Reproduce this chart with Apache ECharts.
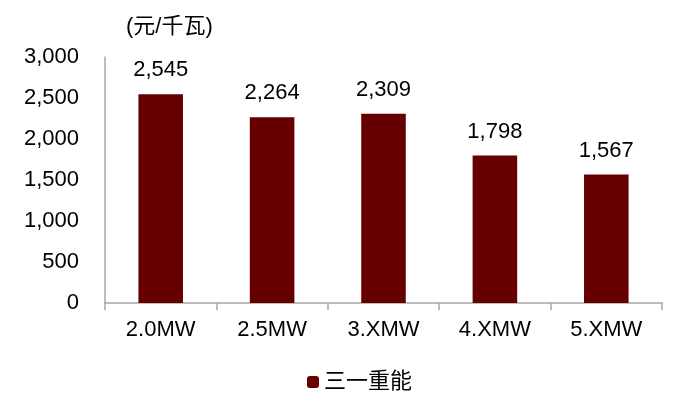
<!DOCTYPE html>
<html style="height: 100%">
<head>
<meta charset="UTF-8">
<title>三一重能</title>
<script src="https://cdn.jsdelivr.net/npm/echarts@6/dist/echarts.min.js"></script>
</head>
<body style="height: 100%;margin: 0">
<div id="container" style="width: 700px;height: 412px"></div>
<script type="text/javascript">
// categories and values
var categories = ['2.0MW', '2.5MW', '3.XMW', '4.XMW', '5.XMW'];
var prices = [2545, 2264, 2309, 1798, 1567];
var seriesName = '三一重能';
var unitLabel = '(元/千瓦)';

var fontFamily = '"Liberation Sans", Arial, "Noto Sans CJK SC", sans-serif';
var fontSize = 22;
var myChart = echarts.init(document.getElementById('container'));

var option = {
    animation: false,
    textStyle: { fontFamily: fontFamily },
    grid: { left: 105, right: 38, top: 57, bottom: 109 },
    title: {
        text: unitLabel,
        left: 126,
        top: 16,
        padding: 0,
        textStyle: { fontSize: fontSize, fontWeight: 'normal', color: '#000', fontFamily: fontFamily }
    },
    legend: {
        data: [seriesName],
        top: 371,
        left: 307,
        padding: 0,
        itemWidth: 12,
        itemHeight: 12,
        itemGap: 4,
        textStyle: { fontSize: fontSize, color: '#000', fontFamily: fontFamily }
    },
    xAxis: {
        type: 'category',
        data: categories,
        axisLine: { lineStyle: { color: '#a6a6a6', width: 1.5 } },
        axisTick: { show: true, length: 7, lineStyle: { color: '#a6a6a6', width: 1.5 } },
        axisLabel: { fontSize: fontSize, color: '#000', margin: 16 }
    },
    yAxis: {
        type: 'value',
        min: 0,
        max: 3000,
        interval: 500,
        axisLine: { show: true, lineStyle: { color: '#a6a6a6', width: 1.5 } },
        axisTick: { show: false },
        splitLine: { show: false },
        axisLabel: {
            fontSize: fontSize,
            color: '#000',
            margin: 26,
            formatter: function (v) { return v.toLocaleString('en-US'); }
        }
    },
    series: [{
        name: seriesName,
        type: 'bar',
        data: prices,
        barWidth: '40%',
        itemStyle: { color: '#660000' },
        label: {
            show: true,
            position: 'top',
            distance: 13,
            fontSize: fontSize,
            color: '#000',
            formatter: function (p) { return p.value.toLocaleString('en-US'); }
        }
    }]
};

myChart.setOption(option);
</script>
</body>
</html>
